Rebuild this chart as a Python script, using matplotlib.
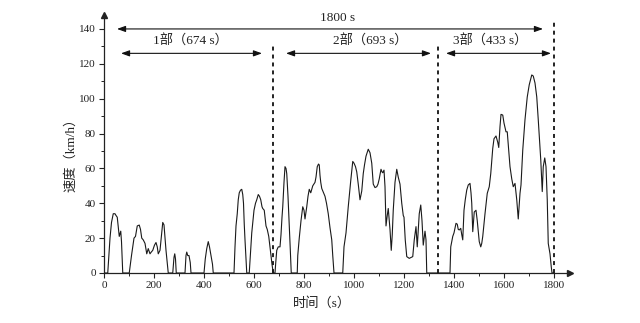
import numpy as np
import matplotlib
matplotlib.use("Agg")
import matplotlib.pyplot as plt
from matplotlib.ticker import MultipleLocator

FONTS = ["Liberation Serif", "Noto Sans CJK SC", "DejaVu Sans"]
plt.rcParams["font.family"] = FONTS

# speed trace (s, km/h)
time_s = [
    0, 15, 24, 30, 37, 44, 48, 53, 61, 67, 70, 75,
    101, 110, 120, 126, 133, 141, 146, 151, 157, 164, 171, 177, 184, 189, 195,
    202, 208, 213, 217, 224, 230, 235, 240, 244, 248, 257,
    275, 280, 283, 286, 289,
    324, 328, 331, 335, 340, 345, 348,
    400, 405, 411, 417, 422, 428, 434, 437,
    520, 524, 528, 533, 537, 541, 546, 551, 555, 558, 561, 564, 571,
    581, 586, 591, 596, 600, 606, 611, 617, 622, 627, 632, 635, 641, 645, 648,
    653, 659, 663, 667, 672, 677, 684,
    687, 691, 697, 704, 708, 712, 715, 720, 724, 728, 731, 736, 741, 745, 749,
    773, 775, 781, 788, 795, 800, 804, 811, 816, 821, 827, 835, 844, 848, 853,
    858, 861, 864, 867, 871, 878, 884, 890, 897, 904, 911, 915, 920,
    955, 960, 968, 977, 987, 995, 1000, 1006, 1011, 1017, 1024, 1031, 1037,
    1042, 1048, 1057, 1064, 1071, 1077, 1084, 1091, 1096, 1101, 1108, 1112,
    1115, 1120, 1124, 1128, 1133, 1137, 1140, 1144, 1149, 1153, 1157, 1164,
    1171, 1177, 1184, 1191, 1197, 1200, 1205, 1211, 1221, 1235, 1241, 1248,
    1253, 1261, 1267, 1272, 1277, 1284, 1288, 1291,
    1384, 1387, 1395, 1400, 1408, 1413, 1417, 1421, 1427, 1431, 1435, 1440,
    1445, 1451, 1457, 1464, 1468, 1471, 1475, 1481, 1488, 1493, 1497, 1501,
    1507, 1511, 1515, 1524, 1533, 1541, 1547, 1551, 1555, 1560, 1568, 1575,
    1579, 1584, 1588, 1595, 1600, 1608, 1613, 1617, 1624, 1631, 1637, 1644,
    1651, 1657, 1664, 1668, 1675, 1684, 1693, 1701, 1711, 1717, 1724, 1731,
    1737, 1742, 1747, 1753, 1757, 1763, 1768, 1773, 1777, 1784, 1789, 1792, 1800,
]
speed_kmh = [
    0, 0, 20, 29, 34, 34, 33, 32, 21, 24, 18, 0,
    0, 10, 20, 21, 27, 27.5, 25, 20, 19, 17, 11, 14, 11, 12, 13,
    16, 17.5, 15, 11, 13, 22, 29, 27.6, 20, 13, 0,
    0, 9, 11, 8, 0,
    0, 10, 12, 10, 10, 6, 0,
    0, 8, 14, 18, 15, 10, 5, 0,
    0, 15, 27, 34, 42, 46, 47.5, 48, 45, 40, 28, 19, 0,
    0, 12, 23, 30, 36, 40, 42, 45, 44, 42, 38, 37, 36, 31, 27,
    25, 21, 16, 11, 5, 0, 0,
    6, 13, 15, 15, 22, 32, 38, 52, 61, 60, 57, 44, 28, 14, 0,
    0, 10, 20, 30, 38, 36, 31, 38, 44, 48, 46, 50, 52, 55, 61,
    62.5, 62, 56, 52, 48.5, 46, 44, 40, 34, 26, 19, 10, 0,
    0, 15, 23, 38, 53, 64, 63, 61, 58, 51, 42, 47, 57,
    62, 67, 71, 69, 63, 51, 49, 49.5, 51, 54, 59.5, 58,
    57.5, 59, 49.5, 27, 33, 37, 32, 25, 13, 22, 36, 52,
    59.5, 55, 51, 40, 33, 32, 19, 9.4, 8.4, 9.4, 19, 26.6,
    15, 34, 39, 30, 16, 24, 19, 0,
    0, 15, 21, 23, 28.5, 28, 25, 24.7, 25.6, 22, 19, 36,
    42, 47.6, 50.5, 51.4, 46, 40, 23.7, 35, 36, 30, 24, 18,
    15, 17, 21, 34, 45.7, 49.5, 57, 64, 71.5, 77, 78.6, 75,
    72, 84, 91, 90.6, 86, 81, 81, 74, 61, 54, 49.5, 51.4,
    42, 31, 45.7, 50.5, 70.5, 88, 101, 108, 113.6, 113, 109, 101,
    88, 76, 65, 46.7, 61, 66, 61, 42, 17, 11, 3.6, 0, 0,
]

# phase split lines and labels
split_s = [676, 1337, 1800]
phase_labels = ["1部（674 s）", "2部（693 s）", "3部（433 s）"]
total_label = "1800 s"

fig = plt.figure(figsize=(6.4, 3.23), dpi=100)
ax = fig.add_axes([104 / 640, 50 / 323, 466 / 640, 258 / 323])

ax.plot(time_s, speed_kmh, color="#1a1a1a", lw=0.8)

ax.set_xlim(0, 1864)
ax.set_ylim(0, 148)
ax.xaxis.set_major_locator(MultipleLocator(200))
ax.xaxis.set_minor_locator(MultipleLocator(100))
ax.yaxis.set_major_locator(MultipleLocator(20))
ax.yaxis.set_minor_locator(MultipleLocator(10))
ax.set_xticks(np.arange(0, 1801, 200))
ax.tick_params(which="major", direction="out", length=3.5, width=0.8,
               labelsize=8, colors="#222222", pad=2.5)
ax.tick_params(which="minor", direction="out", length=2, width=0.7,
               colors="#222222")

for s in ("top", "right"):
    ax.spines[s].set_visible(False)
for s in ("left", "bottom"):
    ax.spines[s].set_linewidth(0.9)
    ax.spines[s].set_color("#222222")
# arrow heads on the axes
ax.plot(1, 0, ">", color="#222222", ms=4, transform=ax.transAxes, clip_on=False)
ax.plot(0, 1, "^", color="#222222", ms=4, transform=ax.transAxes, clip_on=False)

ax.set_xlabel("时间（s）", fontsize=9.5, color="#222222")
ax.xaxis.set_label_coords(872 / 1864, -0.092)
ax.set_ylabel("速度（km/h）", fontsize=9.5, color="#222222")
ax.yaxis.set_label_coords(-0.058, 0.47)

# dashed phase boundaries
tops = [130, 130, 145]
for x, top in zip(split_s, tops):
    ax.plot([x, x], [0, top], color="#111111", lw=1.3, ls=(0, (2.2, 2.2)),
            clip_on=False)

arrow_kw = dict(arrowstyle="<|-|>,head_length=0.5,head_width=0.18",
                color="#111111", lw=0.8, shrinkA=0, shrinkB=0)

ax.annotate("", xy=(52, 140), xytext=(1756, 140), arrowprops=arrow_kw)
ax.text(936, 143, total_label, ha="center", va="bottom", fontsize=9.5,
        color="#222222")

spans = [(68, 632), (728, 1308), (1368, 1788)]
centers = [344, 1064, 1544]
for (a, b), c, lab in zip(spans, centers, phase_labels):
    ax.annotate("", xy=(a, 126), xytext=(b, 126), arrowprops=arrow_kw)
    ax.text(c, 129, lab, ha="center", va="bottom", fontsize=9.5,
            color="#222222")

fig.savefig("out.png", dpi=100)
